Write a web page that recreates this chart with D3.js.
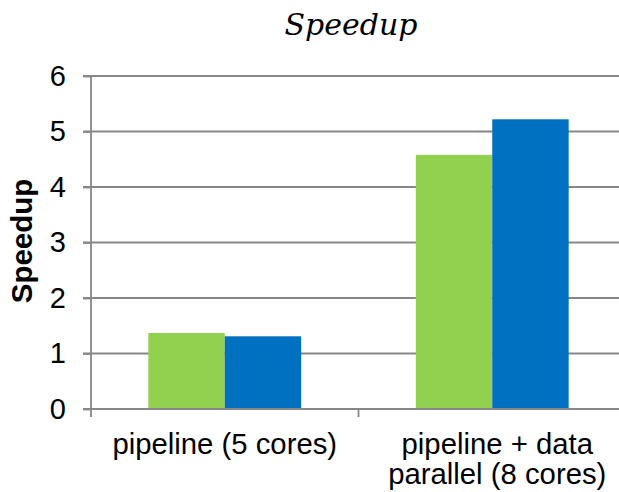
<!DOCTYPE html>
<html>
<head>
<meta charset="utf-8">
<script src="https://cdn.jsdelivr.net/npm/d3@7"></script>
<style>
  html, body { margin: 0; padding: 0; background: #ffffff; }
  svg { display: block; }
</style>
</head>
<body>
<svg id="chart" width="619" height="492"></svg>
<script>
const categories = [["pipeline (5 cores)"], ["pipeline + data", "parallel (8 cores)"]];
const categoryKeys = ["pipeline (5 cores)", "pipeline + data parallel (8 cores)"];
const seriesNames = ["Series A", "Series B"];
const seriesA = [1.37, 4.58];
const seriesB = [1.31, 5.22];
const seriesColors = ["#92D050", "#0070C0"];
const yTicks = [0, 1, 2, 3, 4, 5, 6];
const titleText = "Speedup";
const yLabelText = "Speedup";

(function () {
const svg = d3.select("#chart");
const pLeft = 91, pRight = 626, pTop = 76, pBottom = 409;
const labelFont = "Liberation Sans, Arial, sans-serif";

const x0 = d3.scaleBand().domain(categoryKeys).range([pLeft, pRight]).padding(0);
const bw = x0.bandwidth();
const x1 = d3.scaleBand().domain(seriesNames)
  .range([bw * 0.75 / 3.5, bw * 2.75 / 3.5]).padding(0);
const y = d3.scaleLinear().domain([0, 6]).range([pBottom, pTop]);

const gridColor = "#878787";
const sw = 1.8;

// gridlines
svg.append("g").selectAll("line").data(yTicks.filter(d => d > 0)).join("line")
  .attr("x1", pLeft - 8).attr("x2", 619)
  .attr("y1", d => y(d)).attr("y2", d => y(d))
  .attr("stroke", gridColor).attr("stroke-width", sw);

// y axis
const yAxis = d3.axisLeft(y).tickValues(yTicks).tickSize(8).tickPadding(17).tickFormat(d3.format("d"));
const gy = svg.append("g").attr("transform", `translate(${pLeft},0)`).call(yAxis);
gy.select(".domain").attr("stroke", gridColor).attr("stroke-width", sw)
  .attr("d", `M-8,${y(6)}H0V${pBottom}`);
gy.selectAll(".tick line").attr("stroke", gridColor).attr("stroke-width", sw);
gy.selectAll(".tick text").attr("font-family", labelFont)
  .attr("font-size", 29).attr("fill", "#000");

// bars
const data = categoryKeys.map((c, i) => ({cat: c, vals: [seriesA[i], seriesB[i]]}));
const groups = svg.append("g").selectAll("g").data(data).join("g")
  .attr("transform", d => `translate(${x0(d.cat)},0)`);
groups.selectAll("rect").data(d => d.vals.map((v, j) => ({s: seriesNames[j], v, c: seriesColors[j]})))
  .join("rect")
  .attr("x", d => x1(d.s)).attr("width", x1.bandwidth())
  .attr("y", d => y(d.v)).attr("height", d => y(0) - y(d.v))
  .attr("fill", d => d.c);

// x axis
svg.append("line").attr("x1", pLeft - 8).attr("x2", 619).attr("y1", pBottom).attr("y2", pBottom)
  .attr("stroke", gridColor).attr("stroke-width", sw);
const edges = [x0(categoryKeys[0]), x0(categoryKeys[1])];
svg.append("g").selectAll("line").data(edges).join("line")
  .attr("x1", d => d).attr("x2", d => d).attr("y1", pBottom).attr("y2", pBottom + 8)
  .attr("stroke", gridColor).attr("stroke-width", sw);

// category labels
const labelX = (d, i) => x0(d) + bw / 2 + (i === 1 ? 5 : 0);
const labels = svg.append("g").selectAll("text").data(categoryKeys).join("text")
  .attr("font-family", labelFont).attr("font-size", 29.3)
  .attr("fill", "#000").attr("text-anchor", "middle")
  .attr("x", labelX)
  .attr("y", 454);
labels.each(function(d, i) {
  const t = d3.select(this);
  categories[i].forEach((line, k) => {
    t.append("tspan").attr("x", labelX(d, i))
      .attr("dy", k === 0 ? 0 : 30).text(line);
  });
});

// title
svg.append("text").attr("x", 351).attr("y", 35).attr("text-anchor", "middle")
  .attr("font-family", "DejaVu Serif, serif").attr("font-style", "italic")
  .attr("font-size", 30).attr("fill", "#000").text(titleText);

// y label
svg.append("text").attr("transform", `translate(32,241) rotate(-90)`)
  .attr("text-anchor", "middle").attr("font-family", labelFont)
  .attr("font-weight", "bold").attr("font-size", 29.5).attr("fill", "#000").text(yLabelText);
})();
</script>
</body>
</html>
